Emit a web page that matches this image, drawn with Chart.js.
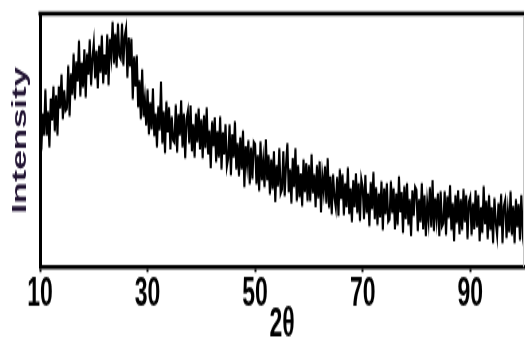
<!DOCTYPE html>
<html><head><meta charset="utf-8">
<script src="https://cdn.jsdelivr.net/npm/chart.js@4.4.1/dist/chart.umd.min.js"></script>
<style>html,body{margin:0;padding:0;background:#fff;overflow:hidden}</style>
</head><body>
<canvas id="c" width="525" height="199" style="display:block;width:525px;height:338px"></canvas>
<script>
// sampling grid of the scan (2θ, degrees)
const X_START = 10;
const X_STEP = 0.25;
// intensity (arbitrary units), one value per 0.25°
const INTENSITY = [
163,117,154,132,178,132,156,120,169,147,181,136,172,132,181,159,193,148,177,157,
159,202,151,194,173,214,168,206,186,227,171,205,180,218,170,214,193,228,182,209,
224,189,217,179,222,195,232,184,213,193,233,182,229,212,246,204,234,200,244,212,
209,244,202,231,239,190,230,201,229,168,211,181,212,160,187,148,198,151,168,142,
178,133,165,138,179,131,154,120,161,137,186,124,156,114,166,135,160,118,151,127,
125,163,115,153,132,167,120,154,109,148,156,124,162,116,143,110,154,125,159,118,
148,109,152,119,160,113,137,99,146,121,150,105,136,110,151,98,135,113,143,101,
109,143,92,133,110,146,98,124,91,130,98,137,80,121,103,127,83,120,88,125,
123,83,112,76,126,87,106,80,128,87,112,73,108,78,116,65,102,81,119,74,
78,116,71,102,124,75,98,64,109,80,119,66,102,70,94,61,108,75,104,66,
102,66,113,74,93,60,102,69,106,55,91,76,101,64,109,59,91,53,93,70,
60,90,51,98,68,93,52,84,60,100,53,79,45,87,60,94,54,84,46,88,
80,48,92,54,74,41,85,58,95,48,80,42,74,50,86,37,79,53,84,46,
48,86,54,79,38,74,42,91,55,75,34,81,48,84,42,68,31,77,51,80,
77,36,68,45,84,38,72,31,64,47,80,40,87,36,69,49,74,31,76,41,
44,76,32,71,49,82,37,64,26,72,44,77,33,68,37,78,45,72,28,65,
70,32,64,38,77,40,72,26,60,34,81,43,66,28,72,37,60,24,69,45,
32,64,41,73,24,61,67,29,55,35,76,32,61,24,68,40,63,27,72,37,
52
];
const TICK_VALUES = [10, 30, 50, 70, 90];
const TICK_LABELS = ['10', '30', '50', '70', '90'];
const X_TITLE = '2θ';
const Y_TITLE = 'Intensity';

const FONT = '"Liberation Sans", Arial, Helvetica, sans-serif';

const points = INTENSITY.map((v, i) => ({ x: X_START + i * X_STEP, y: v }));

const framePlugin = {
  id: 'frame',
  afterDraw(chart) {
    const { ctx, chartArea: a } = chart;
    ctx.save();
    ctx.strokeStyle = '#000';
    ctx.lineWidth = 2.4;
    ctx.beginPath();
    ctx.moveTo(a.left - 1.5, a.top);
    ctx.lineTo(a.right, a.top);
    ctx.stroke();
    ctx.strokeStyle = '#c4c4c4';
    ctx.lineWidth = 1;
    ctx.beginPath();
    ctx.moveTo(a.right - 0.5, a.top + 1.2);
    ctx.lineTo(a.right - 0.5, a.bottom);
    ctx.stroke();
    ctx.restore();
  }
};

const canvas = document.getElementById('c');
new Chart(canvas, {
  type: 'line',
  data: {
    datasets: [{
      data: points,
      borderColor: '#000',
      borderWidth: 2.1,
      pointRadius: 0,
      tension: 0,
      fill: false
    }]
  },
  options: {
    responsive: false,
    animation: false,
    devicePixelRatio: 1,
    layout: { padding: { top: 8, right: 1, left: 0, bottom: 0 } },
    plugins: { legend: { display: false }, tooltip: { enabled: false } },
    scales: {
      x: {
        type: 'linear',
        min: 10,
        max: 100,
        afterBuildTicks: s => { s.ticks = TICK_VALUES.map(v => ({ value: v })); },
        afterFit: s => { s.height = 41.8; },
        ticks: {
          autoSkip: false,
          maxRotation: 0,
          padding: 2,
          color: '#000',
          font: { family: FONT, size: 23, weight: 'bold', lineHeight: 1 },
          callback: (v, i) => TICK_LABELS[i]
        },
        grid: { display: true, drawOnChartArea: false, drawTicks: true, tickLength: 3, tickColor: '#000', tickWidth: 2 },
        border: { display: true, color: '#000', width: 2.4 },
        title: {
          display: true, text: X_TITLE, color: '#000', padding: 0,
          font: { family: FONT, size: 23, weight: 'bold', lineHeight: 0.6 }
        }
      },
      y: {
        type: 'linear',
        min: 0,
        max: 254,
        afterFit: s => { s.width = 40; },
        ticks: { display: false },
        grid: { display: false },
        border: { display: true, color: '#000', width: 3 },
        title: {
          display: true, text: Y_TITLE, color: '#221433', padding: { top: 10, bottom: 0 },
          font: { family: FONT, size: 21, weight: 'bold', lineHeight: 1 }
        }
      }
    }
  },
  plugins: [framePlugin]
});
canvas.style.width = '525px';
canvas.style.height = '338px';
</script>
</body></html>
